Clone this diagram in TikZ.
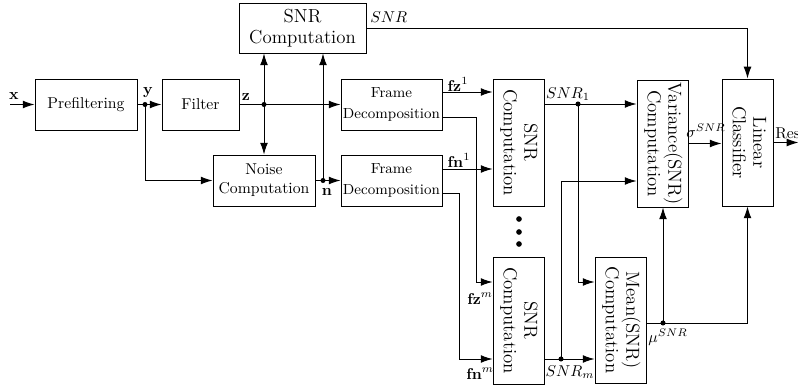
\documentclass[tikz,border=0pt]{standalone}
\usepackage{graphicx}
\usetikzlibrary{arrows.meta,calc}
\newcommand\RotTwo[2]{\rotatebox{-90}{\large\begin{tabular}{@{}c@{}}#1\\[-1pt]#2\end{tabular}}}
\begin{document}
\begin{tikzpicture}[x=0.637pt,y=-0.637pt,
  blk/.style n args={2}{draw,line width=0.6pt,minimum width={#1*0.637pt},minimum height={#2*0.637pt},inner sep=0pt,align=center},
  wire/.style={line width=0.6pt},
  arr/.style={wire,-{Latex[length=7.5pt,width=5pt]}},
  dotn/.style={circle,fill,inner sep=0pt,minimum size=3.2pt},
  bigdot/.style={circle,fill,inner sep=0pt,minimum size=3.6pt},
  lbl/.style={inner sep=0pt}]
\useasboundingbox (0,0) rectangle (798,391);

% blocks
\node[blk={102}{51}] (pre) at (86,104.5) {Prefiltering};
\node[blk={77}{51}] (filt) at (200.5,104.5) {Filter};
\node[blk={127}{50},font=\fontsize{12}{13}\selectfont] (snrtop) at (302.5,28) {SNR\\Computation};
\node[blk={102}{51}] (noise) at (264,180.5) {Noise\\Computation};
\node[blk={101}{51},font=\fontsize{9.3}{13}\selectfont] (fr1) at (391.5,104.5) {Frame\\Decomposition};
\node[blk={101}{51},font=\fontsize{9.3}{13}\selectfont] (fr2) at (391.5,180.5) {Frame\\Decomposition};
\node[blk={51}{127}] (snr1) at (518.5,142.5) {\RotTwo{SNR}{Computation}};
\node[blk={51}{127}] (snrm) at (518.5,320.5) {\RotTwo{SNR}{Computation}};
\node[blk={51}{127}] (var) at (662.5,143.5) {\RotTwo{Variance(SNR)}{Computation}};
\node[blk={51}{127}] (lin) at (747.5,142.5) {\RotTwo{Linear}{Classifier}};
\node[blk={51}{126}] (mean) at (620.5,320) {\RotTwo{Mean(SNR)}{Computation}};

% vertical ellipsis
\node[bigdot] (e1) at (519,219) {};
\node[bigdot] (e2) at (519,232) {};
\node[bigdot] (e3) at (519,244) {};

% input
\coordinate (xin) at (10,104.5);
\draw[arr] (xin) -- (pre.west);
\node[lbl] (xl) at (14,96) {$\mathbf{x}$};

% y
\node[dotn] (yd) at (145,104.5) {};
\draw[arr] (pre.east) -- (filt.west);
\node[lbl] (yl) at (148,93) {$\mathbf{y}$};
\draw[arr] (yd.center) |- (noise.west);

% z
\node[dotn] (zd) at (264,104.5) {};
\draw[arr] (filt.east) -- (fr1.west);
\node[lbl] (zl) at (246,97) {$\mathbf{z}$};
\draw[arr] (zd.center) -- (zd |- snrtop.south);
\draw[arr] (zd.center) -- (noise.north);

% n
\node[dotn] (nd) at (323,180.5) {};
\draw[arr] (noise.east) -- (fr2.west);
\node[lbl] (nl) at (327,192) {$\mathbf{n}$};
\draw[arr] (nd.center) -- (nd |- snrtop.south);

% global SNR
\draw[arr] (snrtop.east) -| (lin.north);
\node[lbl,anchor=west] (snrl) at (370,17) {$SNR$};

% frame outputs
\coordinate (f1a) at ($(fr1.east)+(0,-12.5)$);
\coordinate (f1b) at ($(fr1.east)+(0,12.5)$);
\coordinate (f2a) at ($(fr2.east)+(0,-11.5)$);
\coordinate (f2b) at ($(fr2.east)+(0,12.5)$);
\coordinate (zm) at ($(snrm.west)+(0,-38.5)$);
\coordinate (nm) at ($(snrm.west)+(0,38.5)$);
\draw[arr] (f1a) -- (f1a -| snr1.west);
\draw[arr] (f2a) -- (f2a -| snr1.west);
\draw[arr] (f1b) -| ($(zm)+(-16,0)$) -- (zm);
\draw[arr] (f2b) -| ($(nm)+(-33,0)$) -- (nm);
\node[lbl] (fz1) at (458,84) {$\mathbf{fz}^1$};
\node[lbl] (fn1) at (459,160) {$\mathbf{fn}^1$};
\node[lbl] (fzm) at (480,299) {$\mathbf{fz}^m$};
\node[lbl] (fnm) at (480,374) {$\mathbf{fn}^m$};

% SNR_1
\coordinate (s1o) at ($(snr1.east)+(0,-38.5)$);
\draw[arr] (s1o) -- (s1o -| var.west);
\node[dotn] (s1d) at (578,104) {};
\coordinate (mi1) at ($(mean.west)+(0,-38)$);
\draw[arr] (s1d.center) |- (mi1);
\node[lbl] (s1l) at (568,94) {$SNR_1$};

% SNR_m
\coordinate (smo) at ($(snrm.east)+(0,38.5)$);
\draw[arr] (smo) -- (smo -| mean.west);
\node[dotn] (smd) at (561,359) {};
\coordinate (vi2) at ($(var.west)+(0,37.5)$);
\draw[arr] (smd.center) |- (vi2);
\node[lbl] (sml) at (570,372) {$SNR_m$};

% mean out
\coordinate (mo) at ($(mean.east)+(0,3)$);
\draw[arr] (mo) -| (lin.south);
\node[dotn] (mud) at (663,323) {};
\draw[arr] (mud.center) -- (mud |- var.south);
\node[lbl] (mul) at (668,337) {$\mu^{SNR}$};

% variance out
\draw[arr] (var.east) -- (var.east -| lin.west);
\node[lbl] (sigl) at (706,131) {$\sigma^{SNR}$};

% result
\coordinate (rend) at ($(lin.east)+(25,0)$);
\draw[arr] (lin.east) -- (rend);
\node[lbl,anchor=west] (resl) at (775,133) {Res};
\end{tikzpicture}
\end{document}
